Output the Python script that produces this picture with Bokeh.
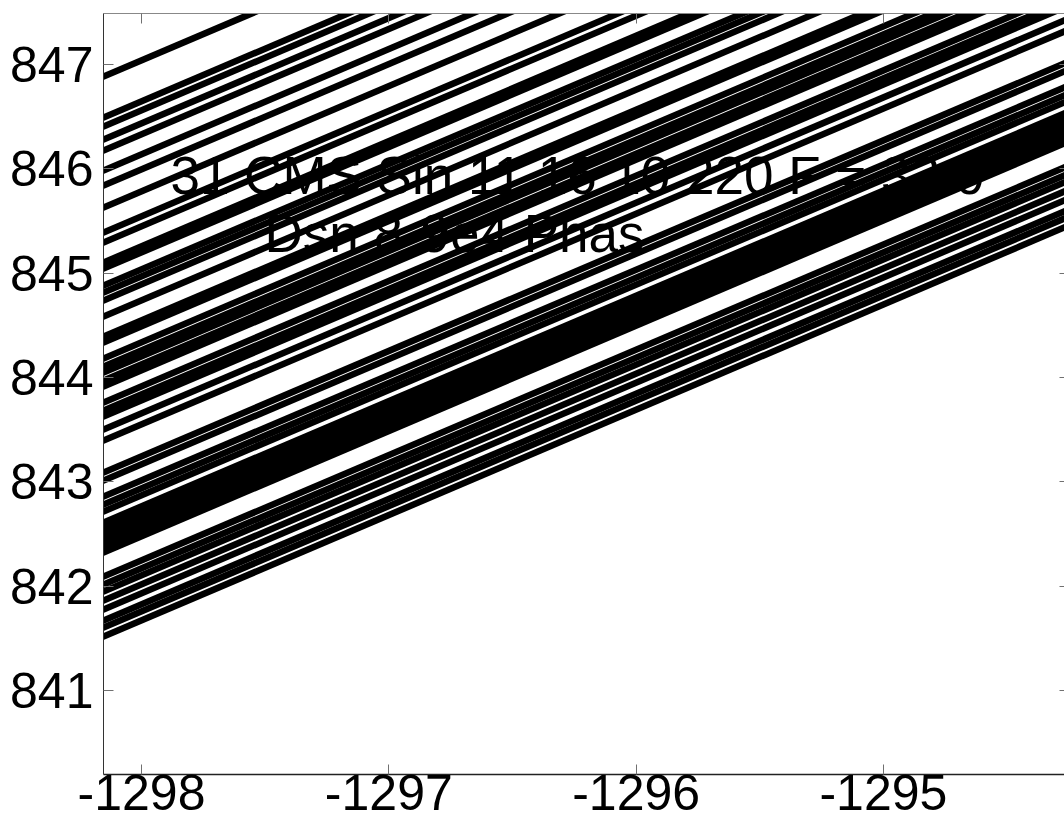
from bokeh.plotting import figure
from bokeh.models import Range1d, LinearAxis, FixedTicker, Label, CustomJSTickFormatter
from bokeh.embed import file_html
from bokeh.resources import INLINE

# ---- data ----
x_ticks = [-1298, -1297, -1296, -1295]
y_ticks = [841, 842, 843, 844, 845, 846, 847]

line_x = [-1298.2, -1294.2]          # x of the start / end of every track
line_y_start = [846.838, 846.445, 846.359, 846.234, 846.129, 845.937, 845.793,
                845.582, 845.343, 845.247, 845.055, 844.997, 844.834, 844.767,
                844.691, 844.537, 844.345, 844.288, 844.135, 844.058, 844.000,
                843.924, 843.866, 843.713, 843.636, 843.578, 843.454, 843.348,
                843.042, 842.965, 842.811, 842.735, 842.668, 842.562, 842.505,
                842.447, 842.390, 842.332, 842.275, 842.044, 841.968, 841.901,
                841.814, 841.728, 841.623, 841.555, 841.469]
line_y_end = [850.876, 850.483, 850.397, 850.272, 850.167, 849.975, 849.831,
              849.620, 849.381, 849.285, 849.093, 849.035, 848.872, 848.805,
              848.729, 848.575, 848.383, 848.326, 848.173, 848.096, 848.038,
              847.962, 847.904, 847.751, 847.674, 847.616, 847.492, 847.386,
              847.080, 847.003, 846.849, 846.773, 846.706, 846.600, 846.543,
              846.485, 846.428, 846.370, 846.313, 846.082, 846.006, 845.939,
              845.852, 845.766, 845.661, 845.593, 845.507]

note_lines = ["31 CMS Sin 11 16 10 220 F = 32.0", "Dsn 8-9e4 Phas"]
note_x = [-1297.883, -1297.503]
note_y = [845.936, 845.380]

FONT = "Liberation Sans"

p = figure(width=1064, height=831, output_backend="svg", toolbar_location=None,
           x_range=Range1d(-1298.1537, -1294.2678),
           y_range=Range1d(840.193, 847.489),
           x_axis_location=None, y_axis_location=None,
           min_border_left=103, min_border_right=0, min_border_top=13,
           min_border_bottom=57)
p.grid.visible = False
p.outline_line_color = None
p.background_fill_color = "white"
p.border_fill_color = "white"

xs = [line_x for _ in line_y_start]
ys = [[a, b] for a, b in zip(line_y_start, line_y_end)]
p.multi_line(xs, ys, line_color="black", line_width=6.5)

def style(ax, size):
    ax.major_tick_in = 10
    ax.major_tick_out = 0
    ax.minor_tick_line_color = None
    ax.major_tick_line_color = "#707070"
    ax.major_tick_line_width = 1
    ax.major_label_text_font = FONT
    ax.major_label_text_font_size = size
    ax.major_label_text_color = "black"

xaxis = LinearAxis(ticker=FixedTicker(ticks=x_ticks))
style(xaxis, "50px")
xaxis.axis_line_color = "#222222"
xaxis.axis_line_width = 1.5
xaxis.major_label_standoff = 0
xaxis.major_label_overrides = {t: str(t) for t in x_ticks}
p.add_layout(xaxis, "below")

yaxis = LinearAxis(ticker=FixedTicker(ticks=y_ticks))
style(yaxis, "50px")
yaxis.axis_line_color = "#333333"
yaxis.axis_line_width = 1
yaxis.major_label_standoff = 10
p.add_layout(yaxis, "left")

top = LinearAxis(ticker=FixedTicker(ticks=x_ticks),
                 formatter=CustomJSTickFormatter(code="return ''"))
style(top, "10px")
top.axis_line_color = "#888888"
top.axis_line_width = 1
top.major_label_standoff = 0
p.add_layout(top, "above")

right = LinearAxis(ticker=FixedTicker(ticks=y_ticks),
                   formatter=CustomJSTickFormatter(code="return ''"))
style(right, "10px")
right.major_tick_in = 5
right.axis_line_color = None
right.major_label_standoff = 0
p.add_layout(right, "right")

for t, xx, yy in zip(note_lines, note_x, note_y):
    p.add_layout(Label(x=xx, y=yy, text=t, text_font=FONT,
                       text_font_size="53px", text_color="black",
                       text_baseline="alphabetic", text_align="left"))

open("out.html", "w").write(file_html(p, INLINE))
